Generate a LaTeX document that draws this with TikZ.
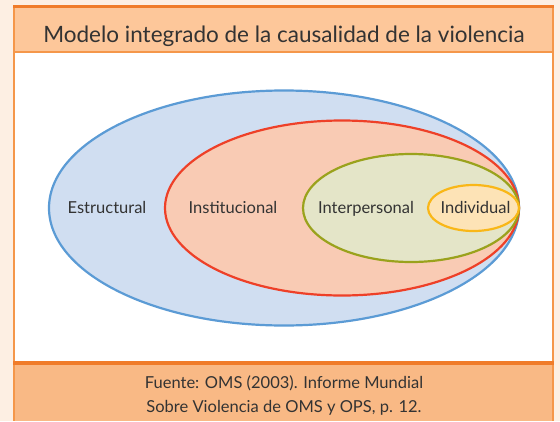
\documentclass[tikz,border=0pt]{standalone}
\usepackage{fontspec}
\setmainfont{Lato}
\usetikzlibrary{shapes.geometric}
\definecolor{bgpeach}{HTML}{FDEFE3}
\definecolor{titlefill}{HTML}{FDC79A}
\definecolor{footfill}{HTML}{F9B985}
\definecolor{topline}{HTML}{F07C2A}
\definecolor{sideline}{HTML}{F5974A}
\definecolor{txt}{HTML}{333333}
\definecolor{bluestroke}{HTML}{5B9BD5}
\definecolor{bluefill}{HTML}{D0DEF1}
\definecolor{redstroke}{HTML}{EE4028}
\definecolor{redfill}{HTML}{F9CBB4}
\definecolor{greenstroke}{HTML}{9AA21C}
\definecolor{greenfill}{HTML}{E4E5C8}
\definecolor{yellowstroke}{HTML}{F9B718}
\definecolor{yellowfill}{HTML}{FDE3B6}
\tikzset{
  ring/.style={ellipse, inner sep=0pt, outer sep=0pt, line width=2.2pt},
  lbl/.style={text=txt, font=\fontsize{16.5}{20}\selectfont, inner sep=0pt, anchor=base},
  srcline/.style={text=txt, font=\fontsize{16.5}{20}\selectfont, inner sep=0pt, anchor=base},
}
\begin{document}
\begin{tikzpicture}[x=1pt,y=-1pt]
\useasboundingbox (0,0) rectangle (560,421);
\fill[bgpeach] (0,0) rectangle (560,421);
\fill[white] (14,52) rectangle (553,363);
\fill[titlefill] (14,7) rectangle (553,52);
\fill[footfill] (14,363) rectangle (553,421);
\draw[sideline, line width=1.5pt] (14,7) -- (14,421) (553,7) -- (553,421);
\draw[sideline, line width=1.2pt] (14,52) -- (553,52);
\draw[topline, line width=3pt] (13.25,6.5) -- (553.75,6.5);
\draw[topline, line width=4pt] (13.25,363) -- (553.75,363);

\node[text=txt, font=\fontsize{22.5}{27}\selectfont, inner sep=0pt, anchor=base] (title) at (284,42) {Modelo integrado de la causalidad de la violencia};

\node[ring, draw=bluestroke, fill=bluefill, minimum width=470pt, minimum height=235pt] (structural) at (284,208) {};
\node[ring, draw=redstroke, fill=redfill, minimum width=354pt, minimum height=175pt] (institutional) at (342,208) {};
\node[ring, draw=greenstroke, fill=greenfill, minimum width=216pt, minimum height=108pt] (interpersonal) at (411,208) {};
\node[ring, draw=yellowstroke, fill=yellowfill, minimum width=91pt, minimum height=46pt] (individual) at (473.5,208) {};

\node[lbl] (l1) at (107,213.5) {Estructural};
\node[lbl] (l2) at (233,213.5) {Institucional};
\node[lbl] (l3) at (366,213.5) {Interpersonal};
\node[lbl] (l4) at (475.5,213.5) {Individual};

\node[srcline] (source1) at (284,388) {Fuente: OMS (2003). Informe Mundial};
\node[srcline] (source2) at (284,412) {Sobre Violencia de OMS y OPS, p. 12.};
\end{tikzpicture}
\end{document}
